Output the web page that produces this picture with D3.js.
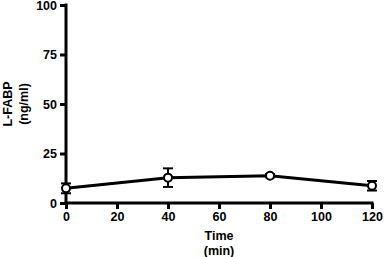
<!DOCTYPE html>
<html><head><meta charset="utf-8">
<script src="https://cdn.jsdelivr.net/npm/d3@7"></script>
<style>body{margin:0;background:#fff}svg{display:block}</style>
</head><body>
<svg id="c" width="387" height="257"></svg>
<script>
const times = [0, 40, 80, 120];
const means = [7.4, 12.8, 13.8, 8.7];
const errors = [2.5, 4.7, 0.8, 2.4];
const xTicks = [0, 20, 40, 60, 80, 100, 120];
const yTicks = [0, 25, 50, 75, 100];

const svg = d3.select("#c");
const x = d3.scaleLinear().domain([0, 120]).range([66, 372]);
const y = d3.scaleLinear().domain([0, 100]).range([203, 5]);
const font = "Arial, 'Liberation Sans', sans-serif";
const fs = "12.5px";

const xa = svg.append("g").attr("transform", "translate(0,203)")
  .call(d3.axisBottom(x).tickValues(xTicks).tickSize(6).tickSizeOuter(0).tickPadding(3));
const ya = svg.append("g").attr("transform", "translate(66,0)")
  .call(d3.axisLeft(y).tickValues(yTicks).tickSize(6).tickSizeOuter(0).tickPadding(3));
[xa, ya].forEach(a => {
  a.selectAll("path").attr("stroke", "#000").attr("stroke-width", 3);
  a.selectAll("line").attr("stroke", "#000").attr("stroke-width", 3);
  a.selectAll("text").attr("fill", "#000").style("font-family", font)
    .style("font-weight", "bold").style("font-size", fs);
});
xa.select("path").attr("d", `M${x(0)-1.5},0H${x(120)+1.5}`);
ya.select("path").attr("d", `M0,${y(0)+1.5}V${y(100)-1.5}`);

// axis titles
const yt = svg.append("text").attr("transform", "translate(12,104) rotate(-90)")
  .attr("text-anchor", "middle").style("font-family", font).style("font-weight", "bold").style("font-size", fs);
yt.append("tspan").attr("x", 0).attr("dy", 0).text("L-FABP");
yt.append("tspan").attr("x", 0).attr("dy", 16).text("(ng/ml)");

svg.append("text").attr("x", x(60)).attr("y", 240).attr("text-anchor", "middle")
  .style("font-family", font).style("font-weight", "bold").style("font-size", fs).text("Time");
svg.append("text").attr("x", x(60)).attr("y", 255).attr("text-anchor", "middle")
  .style("font-family", font).style("font-weight", "bold").style("font-size", fs).text("(min)");

const data = times.map((t, i) => ({t, m: means[i], e: errors[i]}));

// error bars
const eb = svg.append("g").attr("stroke", "#000").attr("stroke-width", 2);
data.forEach(d => {
  eb.append("line").attr("x1", x(d.t)).attr("x2", x(d.t)).attr("y1", y(d.m + d.e)).attr("y2", y(d.m - d.e));
  [d.m + d.e, d.m - d.e].forEach(v => {
    eb.append("line").attr("x1", x(d.t) - 5).attr("x2", x(d.t) + 5).attr("y1", y(v)).attr("y2", y(v));
  });
});

// line
svg.append("path").datum(data)
  .attr("d", d3.line().x(d => x(d.t)).y(d => y(d.m)))
  .attr("fill", "none").attr("stroke", "#000").attr("stroke-width", 3);

svg.append("g").selectAll("circle").data(data).join("circle")
  .attr("cx", d => x(d.t)).attr("cy", d => y(d.m)).attr("r", 4)
  .attr("fill", "#fff").attr("stroke", "#000").attr("stroke-width", 2);
</script>
</body></html>
